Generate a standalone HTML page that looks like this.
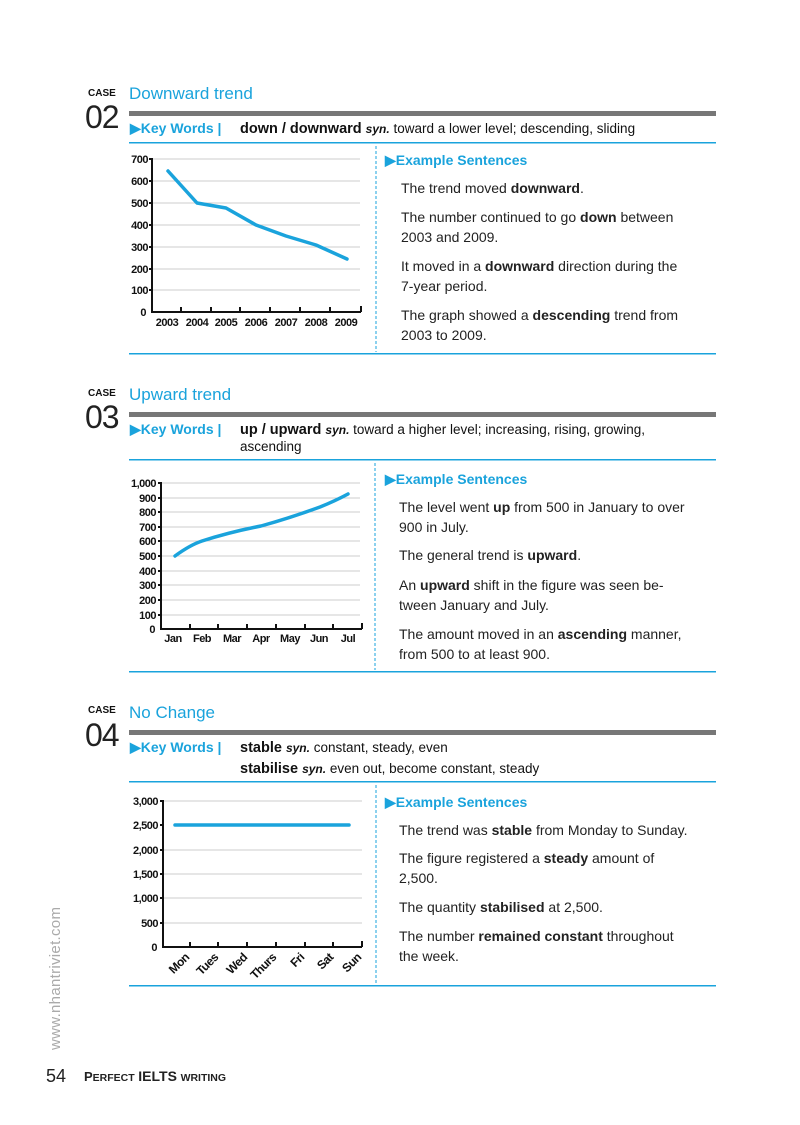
<!DOCTYPE html>
<html><head><meta charset="utf-8"><style>
html,body{margin:0;padding:0;background:#fff}
svg{display:block}
text{font-family:"Liberation Sans",Arial,sans-serif}
.b{font-weight:bold}
.ax{font-size:11px;font-weight:bold;fill:#111;letter-spacing:-0.5px}
.s{font-size:14px;fill:#222}
.h{font-size:17px;fill:#1aa3dc}
.kw{font-size:14px;font-weight:bold;fill:#1aa3dc}
.es{font-size:14px;font-weight:bold;fill:#1aa3dc}
</style></head><body>
<svg width="800" height="1125" viewBox="0 0 800 1125" xmlns="http://www.w3.org/2000/svg">
<rect width="800" height="1125" fill="#fff"/>

<!-- CASE 02 -->
<text x="88" y="96" font-size="10" class="b" fill="#111">CASE</text>
<text x="85" y="128" font-size="32" fill="#222" letter-spacing="-1">02</text>
<text x="129" y="99" class="h">Downward trend</text>
<rect x="129" y="111" width="587" height="5" fill="#777"/>
<text x="130" y="133" class="kw">▶Key Words |</text>
<text x="240" y="133" font-size="14.5" class="b" fill="#111">down / downward <tspan font-size="12" font-style="italic">syn.</tspan><tspan font-weight="normal" font-size="13.5"> toward a lower level; descending, sliding</tspan></text>
<rect x="129" y="142" width="587" height="1.5" fill="#1aa3dc"/>
<rect x="129" y="353" width="587" height="1.5" fill="#1aa3dc"/>
<line x1="376" y1="146" x2="376" y2="352" stroke="#1aa3dc" stroke-dasharray="3,2"/>
<g stroke="#ccc" stroke-width="1">
<line x1="153" y1="159" x2="360" y2="159"/><line x1="153" y1="181" x2="360" y2="181"/><line x1="153" y1="203" x2="360" y2="203"/><line x1="153" y1="225" x2="360" y2="225"/><line x1="153" y1="247" x2="360" y2="247"/><line x1="153" y1="269" x2="360" y2="269"/><line x1="153" y1="290" x2="360" y2="290"/>
</g>
<path d="M152 158V312H361M181 312v-5M211 312v-5M240 312v-5M270 312v-5M300 312v-5M330 312v-5M361 312v-6M152 159h-3M152 181h-3M152 203h-3M152 225h-3M152 247h-3M152 269h-3M152 290h-3" stroke="#111" stroke-width="2" fill="none"/>
<g class="ax" text-anchor="end">
<text x="148" y="163">700</text><text x="148" y="185">600</text><text x="148" y="207">500</text><text x="148" y="229">400</text><text x="148" y="251">300</text><text x="148" y="273">200</text><text x="148" y="294">100</text><text x="146" y="316">0</text>
</g>
<g class="ax" text-anchor="middle">
<text x="167" y="326">2003</text><text x="197" y="326">2004</text><text x="226" y="326">2005</text><text x="256" y="326">2006</text><text x="286" y="326">2007</text><text x="316" y="326">2008</text><text x="346" y="326">2009</text>
</g>
<polyline points="168,171 197,203 226,208 256,225 286,236 316,245 347,259" fill="none" stroke="#1aa3dc" stroke-width="3.5" stroke-linejoin="round" stroke-linecap="round"/>
<text x="385" y="165" class="es">▶Example Sentences</text>
<g class="s">
<text x="401" y="193">The trend moved <tspan class="b">downward</tspan>.</text>
<text x="401" y="222">The number continued to go <tspan class="b">down</tspan> between</text>
<text x="401" y="242">2003 and 2009.</text>
<text x="401" y="271">It moved in a <tspan class="b">downward</tspan> direction during the</text>
<text x="401" y="291">7-year period.</text>
<text x="401" y="320">The graph showed a <tspan class="b">descending</tspan> trend from</text>
<text x="401" y="340">2003 to 2009.</text>
</g>

<!-- CASE 03 -->
<text x="88" y="396" font-size="10" class="b" fill="#111">CASE</text>
<text x="85" y="428" font-size="32" fill="#222" letter-spacing="-1">03</text>
<text x="129" y="400" class="h">Upward trend</text>
<rect x="129" y="412" width="587" height="5" fill="#777"/>
<text x="130" y="434" class="kw">▶Key Words |</text>
<text x="240" y="434" font-size="14.5" class="b" fill="#111">up / upward <tspan font-size="12" font-style="italic">syn.</tspan><tspan font-weight="normal" font-size="13.5"> toward a higher level; increasing, rising, growing,</tspan></text>
<text x="240" y="451" font-size="13.5" fill="#111">ascending</text>
<rect x="129" y="459" width="587" height="1.5" fill="#1aa3dc"/>
<rect x="129" y="671" width="587" height="1.5" fill="#1aa3dc"/>
<line x1="375" y1="463" x2="375" y2="670" stroke="#1aa3dc" stroke-dasharray="3,2"/>
<g stroke="#ccc" stroke-width="1">
<line x1="162" y1="483" x2="360" y2="483"/><line x1="162" y1="498" x2="360" y2="498"/><line x1="162" y1="512" x2="360" y2="512"/><line x1="162" y1="527" x2="360" y2="527"/><line x1="162" y1="541" x2="360" y2="541"/><line x1="162" y1="556" x2="360" y2="556"/><line x1="162" y1="571" x2="360" y2="571"/><line x1="162" y1="585" x2="360" y2="585"/><line x1="162" y1="600" x2="360" y2="600"/><line x1="162" y1="615" x2="360" y2="615"/>
</g>
<path d="M161 482V629H362M190 629v-5M218 629v-5M247 629v-5M276 629v-5M305 629v-5M333 629v-5M362 629v-6M161 483h-3M161 498h-3M161 512h-3M161 527h-3M161 541h-3M161 556h-3M161 571h-3M161 585h-3M161 600h-3M161 615h-3" stroke="#111" stroke-width="2" fill="none"/>
<g class="ax" text-anchor="end">
<text x="156" y="487">1,000</text><text x="156" y="502">900</text><text x="156" y="516">800</text><text x="156" y="531">700</text><text x="156" y="545">600</text><text x="156" y="560">500</text><text x="156" y="575">400</text><text x="156" y="589">300</text><text x="156" y="604">200</text><text x="156" y="619">100</text><text x="155" y="633">0</text>
</g>
<g class="ax" text-anchor="middle">
<text x="173" y="642">Jan</text><text x="202" y="642">Feb</text><text x="232" y="642">Mar</text><text x="261" y="642">Apr</text><text x="290" y="642">May</text><text x="319" y="642">Jun</text><text x="348" y="642">Jul</text>
</g>
<path d="M175,556 Q190,545 202,541 Q230,532 261,526 Q290,518 320,507 Q335,501 348,494" fill="none" stroke="#1aa3dc" stroke-width="3.5" stroke-linecap="round"/>
<text x="385" y="484" class="es">▶Example Sentences</text>
<g class="s">
<text x="399" y="512">The level went <tspan class="b">up</tspan> from 500 in January to over</text>
<text x="399" y="532">900 in July.</text>
<text x="399" y="560">The general trend is <tspan class="b">upward</tspan>.</text>
<text x="399" y="590">An <tspan class="b">upward</tspan> shift in the figure was seen be-</text>
<text x="399" y="610">tween January and July.</text>
<text x="399" y="639">The amount moved in an <tspan class="b">ascending</tspan> manner,</text>
<text x="399" y="659">from 500 to at least 900.</text>
</g>

<!-- CASE 04 -->
<text x="88" y="713" font-size="10" class="b" fill="#111">CASE</text>
<text x="85" y="746" font-size="32" fill="#222" letter-spacing="-1">04</text>
<text x="129" y="718" class="h">No Change</text>
<rect x="129" y="730" width="587" height="5" fill="#777"/>
<text x="130" y="752" class="kw">▶Key Words |</text>
<text x="240" y="752" font-size="14.5" class="b" fill="#111">stable <tspan font-size="12" font-style="italic">syn.</tspan><tspan font-weight="normal" font-size="13.5"> constant, steady, even</tspan></text>
<text x="240" y="773" font-size="14.5" class="b" fill="#111">stabilise <tspan font-size="12" font-style="italic">syn.</tspan><tspan font-weight="normal" font-size="13.5"> even out, become constant, steady</tspan></text>
<rect x="129" y="781" width="587" height="1.5" fill="#1aa3dc"/>
<rect x="129" y="985" width="587" height="1.5" fill="#1aa3dc"/>
<line x1="376" y1="785" x2="376" y2="984" stroke="#1aa3dc" stroke-dasharray="3,2"/>
<g stroke="#ccc" stroke-width="1">
<line x1="164" y1="801" x2="362" y2="801"/><line x1="164" y1="850" x2="362" y2="850"/><line x1="164" y1="874" x2="362" y2="874"/><line x1="164" y1="898" x2="362" y2="898"/><line x1="164" y1="923" x2="362" y2="923"/>
</g>
<path d="M163 800V947H362M190 947v-5M218 947v-5M247 947v-5M276 947v-5M305 947v-5M333 947v-5M362 947v-6M163 801h-3M163 825h-3M163 850h-3M163 874h-3M163 898h-3M163 923h-3" stroke="#111" stroke-width="2" fill="none"/>
<g class="ax" text-anchor="end">
<text x="158" y="805">3,000</text><text x="158" y="829">2,500</text><text x="158" y="854">2,000</text><text x="158" y="878">1,500</text><text x="158" y="902">1,000</text><text x="158" y="927">500</text><text x="157" y="951">0</text>
</g>
<line x1="175" y1="825" x2="349" y2="825" stroke="#1aa3dc" stroke-width="3.5" stroke-linecap="round"/>
<g class="ax" text-anchor="end" style="font-size:12px">
<text transform="translate(190,958) rotate(-45)">Mon</text>
<text transform="translate(219,958) rotate(-45)">Tues</text>
<text transform="translate(248,958) rotate(-45)">Wed</text>
<text transform="translate(277,958) rotate(-45)">Thurs</text>
<text transform="translate(305,958) rotate(-45)">Fri</text>
<text transform="translate(334,958) rotate(-45)">Sat</text>
<text transform="translate(362,958) rotate(-45)">Sun</text>
</g>
<text x="385" y="807" class="es">▶Example Sentences</text>
<g class="s">
<text x="399" y="835">The trend was <tspan class="b">stable</tspan> from Monday to Sunday.</text>
<text x="399" y="863">The figure registered a <tspan class="b">steady</tspan> amount of</text>
<text x="399" y="883">2,500.</text>
<text x="399" y="912">The quantity <tspan class="b">stabilised</tspan> at 2,500.</text>
<text x="399" y="941">The number <tspan class="b">remained constant</tspan> throughout</text>
<text x="399" y="961">the week.</text>
</g>

<!-- watermark & footer -->
<text transform="translate(60,1050) rotate(-90)" font-size="15" fill="#aaa" letter-spacing="0.3">www.nhantriviet.com</text>
<text x="46" y="1082" font-size="18" fill="#222">54</text>
<text x="84" y="1081" font-size="13" class="b" fill="#222">P<tspan font-size="10.5">ERFECT</tspan> <tspan font-size="14">IELTS</tspan> <tspan font-size="10.5">WRITING</tspan></text>
</svg>
</body></html>
